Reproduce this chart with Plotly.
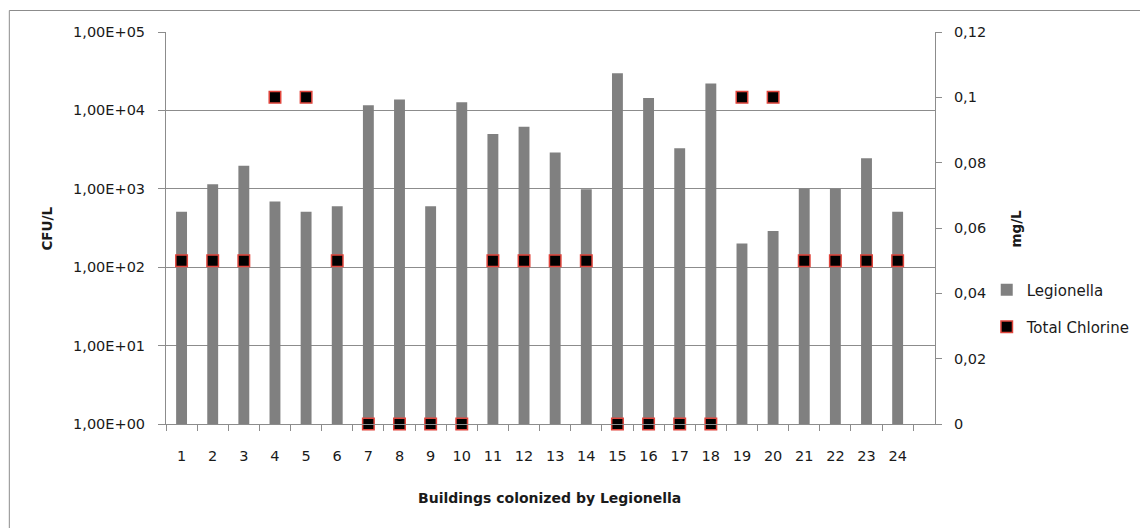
import plotly.graph_objects as go

buildings = [str(i) for i in range(1, 25)]
legionella = [510, 1140, 1970, 690, 510, 600, 11600, 13800, 600, 12700, 5000, 6200,
              2900, 990, 29700, 14400, 3300, 22100, 200, 290, 1000, 1000, 2450, 510]
chlorine = [0.05, 0.05, 0.05, 0.1, 0.1, 0.05, 0, 0, 0, 0, 0.05, 0.05,
            0.05, 0.05, 0, 0, 0, 0, 0.1, 0.1, 0.05, 0.05, 0.05, 0.05]
left_tickvals = [1, 10, 100, 1000, 10000, 100000]
left_ticktext = ["1,00E+00", "1,00E+01", "1,00E+02", "1,00E+03", "1,00E+04", "1,00E+05"]
right_tickvals = [0, 0.02, 0.04, 0.06, 0.08, 0.1, 0.12]
right_ticktext = ["0", "0,02", "0,04", "0,06", "0,08", "0,1", "0,12"]

FONT = "DejaVu Sans"
TXT = "#1a1a1a"
GRID = "#8c8c8c"
TICK_SIZE = 14.5

fig = go.Figure()
fig.add_trace(go.Bar(
    x=buildings, y=legionella, name="Legionella",
    marker=dict(color="#808080", line=dict(width=0)),
    legend="legend", yaxis="y", showlegend=True,
))
fig.add_trace(go.Scatter(
    x=buildings, y=chlorine, name="Total Chlorine", mode="markers",
    marker=dict(symbol="square", size=11.5, color="black",
                line=dict(color="#e0453c", width=1.5)),
    cliponaxis=False, yaxis="y2", legend="legend2", showlegend=True,
))

# page offset (browser body margin)
OFF = 8
# plot area in page pixels
L, R, T, B = 166, 939, 32, 424
W, H = 1148 - OFF, 528 - OFF
pw, ph = R - L, B - T
def px(x):
    return (x - L) / pw
def py(y):
    return (B - y) / ph

fig.update_layout(
    width=W, height=H,
    margin=dict(l=L - OFF, r=W - (R - OFF), t=T - OFF, b=H - (B - OFF), pad=0),
    paper_bgcolor="white", plot_bgcolor="white",
    showlegend=True,
    font=dict(family=FONT, size=13, color=TXT),
    bargap=0.65,
    xaxis=dict(
        type="category", range=[-0.5, 24.2], tickson="boundaries",
        ticks="outside", ticklen=6, tickcolor=GRID, tickwidth=1,
        showline=True, linecolor=GRID, linewidth=1, showgrid=False,
        tickfont=dict(family=FONT, size=TICK_SIZE, color=TXT),
        ticklabelstandoff=19,
    ),
    yaxis=dict(
        type="log", range=[0, 5], tickvals=left_tickvals, ticktext=left_ticktext,
        ticks="outside", ticklen=7, tickcolor=GRID, tickwidth=1,
        showline=True, linecolor=GRID, linewidth=1,
        showgrid=True, gridcolor=GRID, gridwidth=1, zeroline=False,
        tickfont=dict(family=FONT, size=TICK_SIZE, color=TXT),
        ticklabelstandoff=10,
    ),
    yaxis2=dict(
        overlaying="y", side="right", range=[0, 0.12],
        tickvals=right_tickvals, ticktext=right_ticktext,
        ticks="outside", ticklen=6, tickcolor=GRID, tickwidth=1,
        showline=True, linecolor=GRID, linewidth=1,
        showgrid=False, zeroline=False,
        tickfont=dict(family=FONT, size=TICK_SIZE, color=TXT),
        ticklabelstandoff=9,
    ),
    legend=dict(x=px(991), y=py(290), xanchor="left", yanchor="middle",
                bgcolor="rgba(0,0,0,0)", font=dict(family=FONT, size=15, color=TXT)),
    legend2=dict(x=px(991), y=py(327), xanchor="left", yanchor="middle",
                 bgcolor="rgba(0,0,0,0)", font=dict(family=FONT, size=15, color=TXT)),
    annotations=[
        dict(text="<b>Buildings colonized by Legionella</b>", x=px(551), y=py(498),
             xref="paper", yref="paper", showarrow=False, xanchor="center", yanchor="middle",
             font=dict(family=FONT, size=14, color=TXT)),
        dict(text="<b>CFU/L</b>", x=px(46), y=py(229), textangle=-90,
             xref="paper", yref="paper", showarrow=False, xanchor="center", yanchor="middle",
             font=dict(family=FONT, size=13.5, color=TXT)),
        dict(text="<b>mg/L</b>", x=px(1020), y=py(229), textangle=-90,
             xref="paper", yref="paper", showarrow=False, xanchor="center", yanchor="middle",
             font=dict(family=FONT, size=13.5, color=TXT)),
    ],
    shapes=[
        dict(type="line", xref="paper", yref="paper", x0=px(8.5), x1=px(1148), y0=py(10.5), y1=py(10.5),
             line=dict(color="#8c8c8c", width=1)),
        dict(type="line", xref="paper", yref="paper", x0=px(8.5), x1=px(8.5), y0=py(10.5), y1=py(528),
             line=dict(color="#8c8c8c", width=1)),
    ],
)

fig.write_html("out.html")
